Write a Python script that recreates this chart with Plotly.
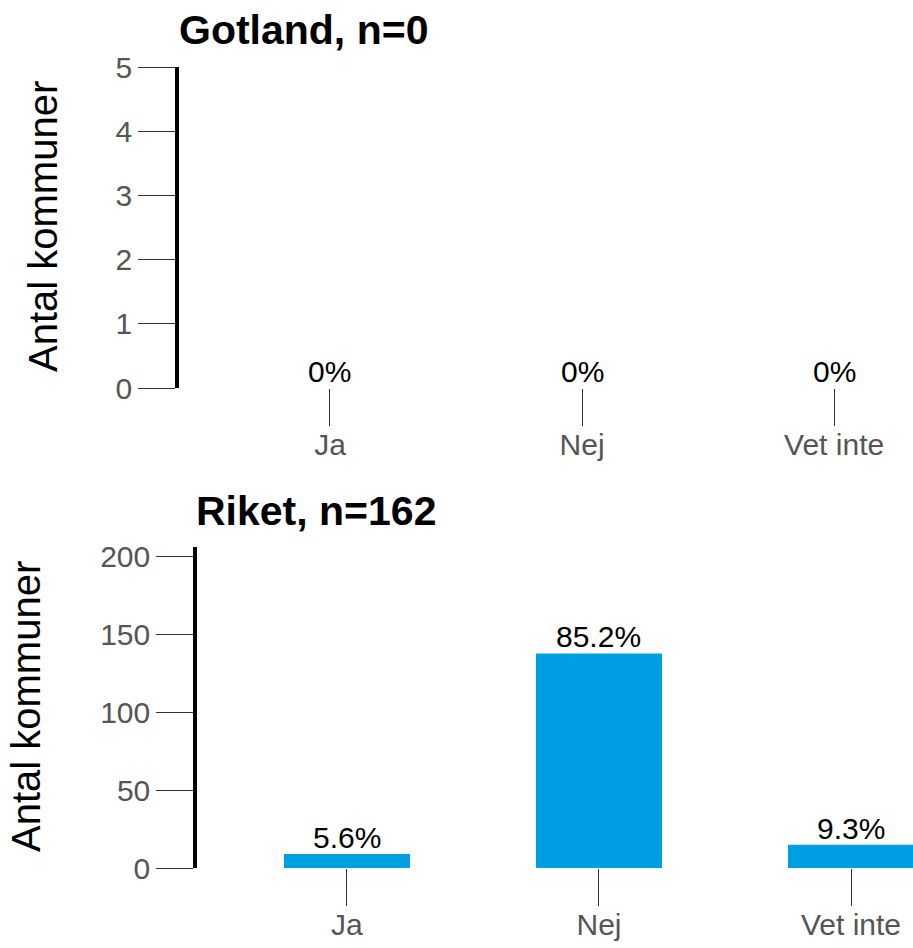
import plotly.graph_objects as go

categories = ["Ja", "Nej", "Vet inte"]
gotland_counts = [0, 0, 0]
gotland_pct = ["0%", "0%", "0%"]
riket_counts = [9, 138, 15]
riket_pct = ["5.6%", "85.2%", "9.3%"]
titles = ["Gotland, n=0", "Riket, n=162"]
ytitle = "Antal kommuner"

W, H = 913, 948
BLUE = "#009FE3"
FONT = "Liberation Sans, Arial, sans-serif"

def fx(px):
    return px / W

def fy(py):
    return (H - py) / H

fig = go.Figure()
fig.add_trace(go.Bar(x=[0, 1, 2], y=gotland_counts, marker_color=BLUE, marker_line_width=0,
                     width=0.5, xaxis="x", yaxis="y", hoverinfo="skip"))
fig.add_trace(go.Bar(x=[0, 1, 2], y=riket_counts, marker_color=BLUE, marker_line_width=0,
                     width=0.5, xaxis="x2", yaxis="y2", hoverinfo="skip"))

tickfont = dict(family=FONT, size=30, color="#555555")
common_x = dict(tickmode="array", tickvals=[0, 1, 2], ticktext=categories, showline=False,
                showgrid=False, zeroline=False, ticks="outside", ticklen=37, tickwidth=1.3,
                tickcolor="#333333", tickfont=tickfont, automargin=False, fixedrange=True,
                ticklabelstandoff=-7)
common_y = dict(showline=True, linecolor="black", linewidth=3.5, showgrid=False, zeroline=False,
                ticks="outside", ticklen=37, tickwidth=1.3, tickcolor="#333333",
                tickfont=tickfont, automargin=False, fixedrange=True)

fig.update_layout(
    width=W, height=H,
    margin=dict(l=0, r=0, t=0, b=0),
    paper_bgcolor="white", plot_bgcolor="white",
    showlegend=False,
    font=dict(family=FONT),
    xaxis=dict(domain=[fx(179), 1], range=[-0.599, 2.313], anchor="y", **common_x),
    yaxis=dict(domain=[fy(388), fy(67)], range=[0, 5], dtick=1, anchor="x", **common_y),
    xaxis2=dict(domain=[fx(197), 1], range=[-0.595, 2.246], anchor="y2", **common_x),
    yaxis2=dict(domain=[fy(868), fy(547)], range=[0, 206.4], dtick=50, anchor="x2", **common_y),
)

annotations = []
for i, (v, t) in enumerate(zip(gotland_counts, gotland_pct)):
    annotations.append(dict(x=i, y=v, xref="x", yref="y", text=t, showarrow=False,
                            yanchor="bottom", yshift=-2,
                            font=dict(family=FONT, size=30, color="black")))
for i, (v, t) in enumerate(zip(riket_counts, riket_pct)):
    annotations.append(dict(x=i, y=v, xref="x2", yref="y2", text=t, showarrow=False,
                            yanchor="bottom", yshift=-2,
                            font=dict(family=FONT, size=30, color="black")))
# panel titles
annotations.append(dict(x=fx(177), y=fy(30), xref="paper", yref="paper", text="<b>" + titles[0] + "</b>",
                        showarrow=False, xanchor="left", yanchor="middle",
                        font=dict(family=FONT, size=41, color="black")))
annotations.append(dict(x=fx(194), y=fy(511), xref="paper", yref="paper", text="<b>" + titles[1] + "</b>",
                        showarrow=False, xanchor="left", yanchor="middle",
                        font=dict(family=FONT, size=41, color="black")))
# y-axis titles
annotations.append(dict(x=fx(43), y=fy(227), xref="paper", yref="paper", text=ytitle, textangle=-90,
                        showarrow=False, xanchor="center", yanchor="middle",
                        font=dict(family=FONT, size=40, color="black")))
annotations.append(dict(x=fx(26), y=fy(707), xref="paper", yref="paper", text=ytitle, textangle=-90,
                        showarrow=False, xanchor="center", yanchor="middle",
                        font=dict(family=FONT, size=40, color="black")))
fig.update_layout(annotations=annotations)

fig.write_html("out.html", config={"displayModeBar": False},
               post_script="document.body.style.margin='0';document.body.style.overflow='hidden';")
